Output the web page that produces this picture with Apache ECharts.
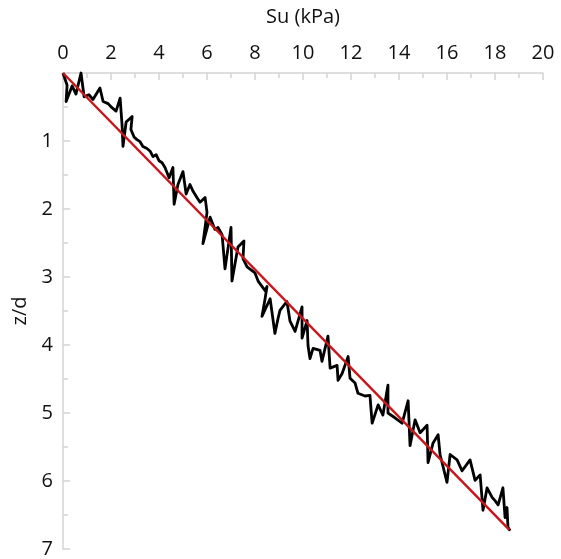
<!DOCTYPE html>
<html>
<head>
<meta charset="utf-8">
<script src="https://cdn.jsdelivr.net/npm/echarts@6/dist/echarts.min.js"></script>
<style>
  html, body { margin: 0; padding: 0; background: #fff; }
  #chart { width: 561px; height: 559px; }
</style>
</head>
<body>
<div id="chart"></div>
<script>
// Measured undrained shear strength profile, Su (kPa) against normalised depth z/d
const suMeasured = [
  0.00, 0.17, 0.13, 0.38, 0.54, 0.75, 0.88, 1.08, 1.25, 1.54,
  1.67, 1.88, 2.04, 2.21, 2.38, 2.46, 2.50, 2.63, 2.88, 2.83,
  2.96, 3.08, 3.21, 3.33, 3.50, 3.63, 3.75, 3.88, 4.00, 4.13,
  4.25, 4.42, 4.58, 4.63, 4.79, 5.00, 5.13, 5.29, 5.42, 5.58,
  5.71, 5.92, 6.00, 5.83, 6.13, 6.33, 6.46, 6.63, 6.75, 7.00,
  7.04, 7.29, 7.54, 7.50, 7.67, 8.00, 8.13, 8.42, 8.50, 8.42,
  8.29, 8.63, 8.83, 8.96, 9.04, 9.33, 9.46, 9.67, 9.96, 9.96,
  10.17, 10.21, 10.29, 10.42, 10.71, 10.79, 11.04, 11.13, 11.42, 11.46,
  11.63, 11.88, 11.96, 12.17, 12.29, 12.58, 12.79, 12.88, 13.13, 13.33,
  13.54, 13.54, 13.83, 14.13, 14.38, 14.46, 14.67, 14.88, 15.17, 15.21,
  15.42, 15.63, 15.71, 16.00, 16.13, 16.42, 16.63, 16.96, 17.17, 17.38,
  17.50, 17.67, 17.88, 18.00, 18.13, 18.33, 18.42, 18.50, 18.54, 18.63
];
const depthMeasured = [
  0.00, 0.18, 0.42, 0.19, 0.31, 0.00, 0.35, 0.32, 0.39, 0.22,
  0.42, 0.45, 0.51, 0.56, 0.37, 0.76, 1.08, 0.72, 0.64, 0.83,
  0.94, 0.98, 1.01, 1.08, 1.11, 1.15, 1.23, 1.20, 1.29, 1.32,
  1.39, 1.54, 1.39, 1.93, 1.64, 1.45, 1.78, 1.64, 1.74, 1.83,
  1.90, 1.83, 2.05, 2.51, 2.12, 2.30, 2.27, 2.38, 2.88, 2.27,
  3.06, 2.56, 2.47, 2.73, 2.85, 2.94, 3.06, 3.20, 3.14, 3.32,
  3.58, 3.32, 3.83, 3.61, 3.49, 3.36, 3.65, 3.80, 3.44, 3.90,
  3.64, 4.01, 4.20, 4.05, 4.08, 4.24, 3.87, 4.34, 4.30, 4.52,
  4.42, 4.17, 4.49, 4.56, 4.71, 4.75, 4.74, 5.15, 4.88, 5.03,
  4.59, 5.00, 5.07, 5.15, 4.82, 5.48, 5.10, 5.29, 5.18, 5.73,
  5.44, 5.32, 5.61, 6.02, 5.61, 5.69, 5.85, 5.69, 5.99, 5.91,
  6.43, 6.10, 6.24, 6.29, 6.35, 6.10, 6.54, 6.39, 6.68, 6.73
];

// Linear trend line through the profile
const suTrend = [0, 18.6];
const depthTrend = [0, 6.72];

// Axis settings
const suTicks = { min: 0, max: 20, step: 2 };
const depthTicks = { min: 0, max: 7, step: 1 };

const measuredPairs = suMeasured.map((s, i) => [s, depthMeasured[i]]);
const trendPairs = suTrend.map((s, i) => [s, depthTrend[i]]);

const FONT = '"Open Sans", "Noto Sans", sans-serif';
const FONT_SIZE = 20;
const AXIS_GREY = '#d4d4d4';
const TEXT = '#111111';

const chart = echarts.init(document.getElementById('chart'), null, { renderer: 'canvas' });
chart.setOption({
  animation: false,
  backgroundColor: '#ffffff',
  grid: { left: 63, right: 18, top: 73, bottom: 7, containLabel: false },
  xAxis: {
    type: 'value',
    position: 'top',
    min: suTicks.min,
    max: suTicks.max,
    interval: suTicks.step,
    name: 'Su (kPa)',
    nameLocation: 'middle',
    nameGap: 46,
    nameTextStyle: { fontFamily: FONT, fontSize: FONT_SIZE, color: TEXT },
    axisLine: { show: true, lineStyle: { color: AXIS_GREY, width: 1.5 } },
    axisTick: { show: true, inside: true, length: 7, lineStyle: { color: AXIS_GREY, width: 1.5 } },
    minorTick: { show: true, splitNumber: 2, length: 5, lineStyle: { color: AXIS_GREY, width: 1.5 } },
    splitLine: { show: false },
    axisLabel: { fontFamily: FONT, fontSize: FONT_SIZE, color: TEXT, margin: 10 }
  },
  yAxis: {
    type: 'value',
    inverse: true,
    min: depthTicks.min,
    max: depthTicks.max,
    interval: depthTicks.step,
    name: 'z/d',
    nameLocation: 'middle',
    nameGap: 31,
    nameRotate: 90,
    nameTextStyle: { fontFamily: FONT, fontSize: FONT_SIZE, color: TEXT },
    axisLine: { show: true, lineStyle: { color: AXIS_GREY, width: 1.5 } },
    axisTick: { show: true, inside: true, length: 7, lineStyle: { color: AXIS_GREY, width: 1.5 } },
    minorTick: { show: true, splitNumber: 2, length: 5, lineStyle: { color: AXIS_GREY, width: 1.5 } },
    splitLine: { show: false },
    axisLabel: { fontFamily: FONT, fontSize: FONT_SIZE, color: TEXT, margin: 10, showMinLabel: false }
  },
  series: [
    {
      name: 'Measured',
      type: 'line',
      data: measuredPairs,
      showSymbol: false,
      symbol: 'none',
      smooth: false,
      clip: false,
      lineStyle: { color: '#000000', width: 2.8, join: 'round' },
      z: 2
    },
    {
      name: 'Trend',
      type: 'line',
      data: trendPairs,
      showSymbol: false,
      symbol: 'none',
      clip: false,
      lineStyle: { color: '#c8171c', width: 2.5 },
      z: 3
    }
  ]
});
</script>
</body>
</html>
